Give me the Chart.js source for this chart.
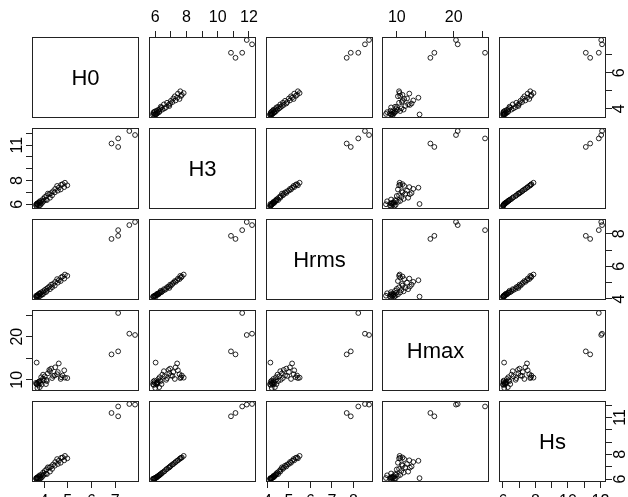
<!DOCTYPE html>
<html>
<head>
<meta charset="utf-8">
<script src="https://cdn.jsdelivr.net/npm/chart.js@4"></script>
<style>
  body { margin: 0; background: #fff; width: 628px; height: 497px; overflow: hidden; position: relative; font-family: "Liberation Sans", Arial, sans-serif; }
  .cell { position: absolute; }
  .lab { position: absolute; width: 107px; height: 81px; display: flex; align-items: center; justify-content: center; font-size: 22px; color: #000; }
</style>
</head>
<body>
<script>
// wave heights, one value per record
let varNames = ['H0', 'H3', 'Hrms', 'Hmax', 'Hs'];

let H0 = [3.68, 3.75, 3.66, 3.80, 3.72, 3.70, 3.85, 3.74, 3.69, 3.90, 3.78, 3.95, 3.83, 3.82, 3.99, 3.88, 4.08, 3.96, 4.12, 4.03, 4.25, 4.10, 4.16, 4.34, 4.22, 4.45, 4.30, 4.38, 4.58, 4.47, 4.70, 4.62, 4.55, 4.85, 4.72, 4.78, 4.98, 4.88, 6.84, 7.12, 7.12, 7.59, 7.83];
let H3 = [5.85, 5.90, 5.95, 5.88, 6.00, 6.05, 5.95, 6.10, 6.02, 6.08, 6.15, 6.20, 6.12, 6.25, 6.30, 6.28, 6.40, 6.45, 6.35, 6.60, 6.55, 6.70, 6.90, 6.75, 6.85, 7.00, 6.95, 7.10, 7.15, 7.30, 7.25, 7.40, 7.55, 7.45, 7.65, 7.70, 7.60, 7.82, 11.14, 10.85, 11.57, 12.20, 11.86];
let Hrms = [4.12, 4.15, 4.18, 4.16, 4.20, 4.22, 4.20, 4.25, 4.14, 4.27, 4.30, 4.28, 4.32, 4.35, 4.38, 4.40, 4.42, 4.47, 4.50, 4.55, 4.60, 4.62, 4.68, 4.72, 4.76, 4.82, 4.88, 4.92, 5.00, 5.05, 5.10, 5.15, 5.22, 5.25, 5.32, 5.38, 5.42, 5.50, 7.69, 7.88, 8.23, 8.54, 8.73];
let Hmax = [9.0, 8.8, 9.3, 9.6, 8.1, 9.1, 9.8, 9.4, 14.0, 8.9, 9.5, 10.2, 9.2, 8.3, 9.9, 10.6, 9.0, 11.2, 9.7, 10.8, 12.0, 10.0, 11.5, 10.4, 12.3, 11.0, 12.6, 10.9, 11.8, 12.9, 10.2, 13.8, 11.3, 12.2, 10.6, 11.0, 10.4, 10.5, 15.9, 16.6, 25.5, 20.7, 20.4];
let Hs = [6.00, 6.02, 6.05, 6.03, 6.08, 6.12, 6.04, 6.15, 6.07, 6.13, 6.22, 6.25, 6.18, 6.30, 6.35, 6.33, 6.45, 6.52, 6.40, 6.65, 6.60, 6.78, 6.95, 6.82, 6.92, 7.08, 7.02, 7.18, 7.22, 7.38, 7.32, 7.48, 7.62, 7.52, 7.72, 7.75, 7.68, 7.88, 11.37, 11.10, 11.90, 12.10, 12.05];

// tick marks and which of them carry a label
let tickVals = {
    H0: [4, 5, 6, 7],
    H3: [6, 7, 8, 9, 10, 11, 12],
    Hrms: [4, 5, 6, 7, 8],
    Hmax: [10, 15, 20, 25],
    Hs: [6, 7, 8, 9, 10, 11, 12]
};
let xTickLabels = {
    H0: [4, 5, 6, 7],
    H3: [6, 8, 10, 12],
    Hrms: [4, 5, 6, 7, 8],
    Hmax: [10, 20],
    Hs: [6, 8, 10, 12]
};
let yTickLabels = {
    H0: [4, 6],
    H3: [6, 8, 11],
    Hrms: [4, 6, 8],
    Hmax: [10, 20],
    Hs: [6, 8, 11]
};

let series = { H0: H0, H3: H3, Hrms: Hrms, Hmax: Hmax, Hs: Hs };

let colLeft = [32, 149, 266, 382, 499];
let rowTop = [37, 128, 219, 310, 401];
let panelW = 107, panelH = 81, M = 40;
let fontFamily = '"Liberation Sans", Arial, sans-serif';

function axisRange(name) {
    let vals = series[name];
    let lo = Math.min(...vals), hi = Math.max(...vals);
    let pad = (hi - lo) * 0.04;
    return [lo - pad, hi + pad];
}

function scaleOpts(name, axis, pos, show) {
    let r = axisRange(name);
    let shown = axis === 'x' ? xTickLabels[name] : yTickLabels[name];
    let twoDigit = shown.some(v => v >= 10);
    let size = show ? M : 0;
    return {
        type: 'linear',
        min: r[0],
        max: r[1],
        position: pos,
        display: show,
        afterBuildTicks: function(s) { s.ticks = tickVals[name].map(v => ({ value: v })); },
        afterFit: function(s) { if (axis === 'x') s.height = size; else s.width = size; },
        ticks: {
            autoSkip: false,
            minRotation: axis === 'y' ? 90 : 0,
            maxRotation: axis === 'y' ? 90 : 0,
            crossAlign: axis === 'y' ? 'center' : 'near',
            padding: axis === 'y' ? (twoDigit ? 0 : 3) : 4,
            color: '#000',
            font: { family: fontFamily, size: 16 },
            callback: function(v) { return shown.includes(v) ? String(v) : ''; }
        },
        grid: { drawOnChartArea: false, drawTicks: true, tickLength: 6, color: '#222', lineWidth: 1 },
        border: { display: false }
    };
}

let boxPlugin = {
    id: 'box',
    afterDraw: function(chart) {
        let a = chart.chartArea, ctx = chart.ctx;
        ctx.save();
        ctx.strokeStyle = '#222';
        ctx.lineWidth = 1;
        ctx.strokeRect(a.left + 0.5, a.top + 0.5, a.right - a.left - 1, a.bottom - a.top - 1);
        ctx.restore();
    }
};

for (let i = 0; i < 5; i++) {
    for (let j = 0; j < 5; j++) {
        let xName = varNames[j], yName = varNames[i];
        let div = document.createElement('div');
        div.className = 'cell';
        div.style.left = (colLeft[j] - M) + 'px';
        div.style.top = (rowTop[i] - M) + 'px';
        let canvas = document.createElement('canvas');
        canvas.width = panelW + 2 * M;
        canvas.height = panelH + 2 * M;
        div.appendChild(canvas);
        document.body.appendChild(div);

        let showTop = i === 0 && j % 2 === 1;
        let showBottom = i === 4 && j % 2 === 0;
        let showLeft = j === 0 && i % 2 === 1;
        let showRight = j === 4 && i % 2 === 0;

        let datasets = [];
        if (i !== j) {
            datasets.push({
                data: series[xName].map((v, k) => ({ x: v, y: series[yName][k] })),
                pointRadius: 2.4,
                pointHoverRadius: 2.4,
                borderWidth: 1,
                borderColor: 'rgba(0,0,0,0.85)',
                backgroundColor: 'rgba(0,0,0,0)'
            });
        }

        new Chart(canvas.getContext('2d'), {
            type: 'scatter',
            data: { datasets: datasets },
            options: {
                responsive: false,
                animation: false,
                layout: {
                    padding: {
                        left: showLeft ? 0 : M,
                        right: showRight ? 0 : M,
                        top: showTop ? 0 : M,
                        bottom: showBottom ? 0 : M
                    }
                },
                plugins: { legend: { display: false }, tooltip: { enabled: false } },
                scales: {
                    x: scaleOpts(xName, 'x', showTop ? 'top' : 'bottom', showTop || showBottom),
                    y: scaleOpts(yName, 'y', showLeft ? 'left' : 'right', showLeft || showRight)
                }
            },
            plugins: [boxPlugin]
        });

        if (i === j) {
            let lab = document.createElement('div');
            lab.className = 'lab';
            lab.style.left = colLeft[j] + 'px';
            lab.style.top = rowTop[i] + 'px';
            lab.textContent = varNames[i];
            document.body.appendChild(lab);
        }
    }
}
</script>
</body>
</html>
